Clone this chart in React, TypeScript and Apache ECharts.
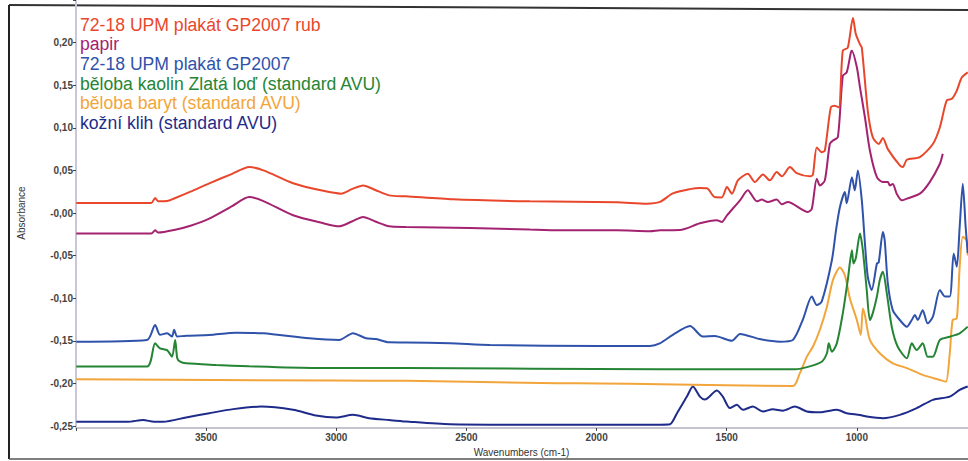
import React, { useEffect, useRef } from "react";
import * as echarts from "echarts";

const seriesNames = [
  "72-18 UPM plakát GP2007 rub",
  "papir",
  "72-18 UPM plakát GP2007",
  "běloba kaolin Zlatá loď (standard AVU)",
  "běloba baryt (standard AVU)",
  "kožní klih (standard AVU)",
];

const seriesColors = ["#e9472c", "#a32370", "#2f52aa", "#268535", "#f2a53a", "#1f2b8a"];

const xTicks = [4000, 3500, 3000, 2500, 2000, 1500, 1000, 500];
const yTicks = [-0.25, -0.2, -0.15, -0.1, -0.05, 0, 0.05, 0.1, 0.15, 0.2];

// [wavenumber (cm-1), absorbance]
const rubData: number[][] = [
  [3999, 0.0117], [3711, 0.0117], [3696, 0.0176], [3684, 0.0137], [3650, 0.014], [3623, 0.017],
  [3560, 0.025], [3488, 0.0348], [3400, 0.046], [3335, 0.0539], [3280, 0.05], [3166, 0.035],
  [3050, 0.026], [2982, 0.0227], [2940, 0.028], [2897, 0.0324], [2850, 0.027], [2797, 0.0207],
  [2732, 0.0196], [2552, 0.016], [2256, 0.0137], [1922, 0.0125], [1807, 0.011], [1757, 0.013],
  [1707, 0.023], [1641, 0.028], [1603, 0.0293], [1576, 0.029], [1546, 0.0187], [1519, 0.0183],
  [1499, 0.0305], [1480, 0.0227], [1457, 0.0383], [1419, 0.046], [1392, 0.0363], [1361, 0.0453],
  [1334, 0.0383], [1308, 0.048], [1288, 0.043], [1257, 0.0539], [1231, 0.0468], [1181, 0.043],
  [1169, 0.045], [1154, 0.077], [1135, 0.0714], [1123, 0.0734], [1100, 0.124], [1085, 0.126],
  [1069, 0.124], [1054, 0.1905], [1035, 0.194], [1015, 0.229], [1004, 0.21], [988, 0.198],
  [981, 0.194], [958, 0.12], [939, 0.089], [916, 0.081], [900, 0.088], [881, 0.075],
  [835, 0.0559], [823, 0.054], [808, 0.0625], [758, 0.0656], [708, 0.081], [681, 0.1007],
  [655, 0.132], [635, 0.134], [616, 0.1437], [597, 0.159], [574, 0.165],
];

const papirData: number[][] = [
  [3999, -0.0241], [3711, -0.0241], [3696, -0.0203], [3684, -0.023], [3623, -0.02], [3560, -0.015],
  [3488, -0.0066], [3400, 0.008], [3335, 0.0187], [3280, 0.014], [3166, -0.0027], [3050, -0.012],
  [2989, -0.0156], [2940, -0.01], [2897, -0.0047], [2850, -0.01], [2797, -0.0156], [2732, -0.0164],
  [2486, -0.0176], [2256, -0.0195], [2141, -0.0203], [1922, -0.0203], [1795, -0.0214], [1757, -0.0203],
  [1680, -0.02], [1603, -0.0121], [1538, -0.0085], [1519, -0.0105], [1499, -0.0027], [1449, 0.0149],
  [1419, 0.0266], [1384, 0.0137], [1365, 0.0157], [1342, 0.0129], [1308, 0.0157], [1288, 0.0102],
  [1265, 0.0129], [1188, 0.0012], [1173, 0.005], [1154, 0.0403], [1142, 0.0324], [1123, 0.0383],
  [1104, 0.081], [1092, 0.085], [1073, 0.089], [1054, 0.161], [1039, 0.165], [1023, 0.1885],
  [1019, 0.1905], [1000, 0.171], [988, 0.1475], [969, 0.1124], [950, 0.0734], [923, 0.042],
  [900, 0.0363], [881, 0.0363], [873, 0.0324], [862, 0.034], [847, 0.0227], [827, 0.0149],
  [808, 0.0169], [758, 0.0227], [720, 0.0363], [681, 0.0578], [670, 0.0696],
];

const plakatData: number[][] = [
  [3999, -0.151], [3727, -0.149], [3696, -0.1315], [3677, -0.143], [3650, -0.141], [3631, -0.145],
  [3623, -0.137], [3611, -0.145], [3577, -0.144], [3488, -0.1432], [3385, -0.1405], [3281, -0.1412],
  [3104, -0.147], [2989, -0.149], [2936, -0.141], [2886, -0.147], [2847, -0.148], [2797, -0.1518],
  [2732, -0.152], [2563, -0.153], [2409, -0.155], [1987, -0.156], [1795, -0.156], [1757, -0.153],
  [1707, -0.143], [1641, -0.1327], [1592, -0.145], [1546, -0.1444], [1480, -0.15], [1449, -0.142],
  [1373, -0.148], [1296, -0.151], [1246, -0.149], [1208, -0.1256], [1173, -0.098], [1154, -0.108],
  [1135, -0.104], [1096, -0.0554], [1080, -0.02], [1065, 0.007], [1046, 0.0246], [1039, 0.0113],
  [1019, 0.042], [1008, 0.0266], [996, 0.05], [981, 0.0149], [969, -0.0355], [958, -0.0749],
  [943, -0.0905], [923, -0.0593], [916, -0.058], [900, -0.0222], [893, -0.032], [881, -0.0827],
  [862, -0.114], [835, -0.1256], [808, -0.1335], [789, -0.1256], [777, -0.1198], [766, -0.1256],
  [747, -0.114], [728, -0.1295], [708, -0.1218], [681, -0.0905], [662, -0.098], [643, -0.098],
  [628, -0.0475], [616, -0.0632], [605, -0.0164], [593, 0.0344], [582, -0.0164], [574, -0.047],
];

const kaolinData: number[][] = [
  [3999, -0.1803], [3727, -0.1803], [3696, -0.153], [3677, -0.159], [3650, -0.161], [3631, -0.1686],
  [3619, -0.149], [3611, -0.1705], [3600, -0.1745], [3577, -0.1764], [3462, -0.1783], [3335, -0.18],
  [3078, -0.182], [2732, -0.182], [1757, -0.1834], [1238, -0.1834], [1181, -0.18], [1135, -0.1745],
  [1115, -0.1646], [1108, -0.153], [1096, -0.1628], [1077, -0.153], [1054, -0.1178], [1035, -0.0788],
  [1019, -0.0437], [1013, -0.0593], [1004, -0.053], [988, -0.0241], [977, -0.0437], [962, -0.0905],
  [950, -0.1256], [939, -0.1178], [923, -0.098], [912, -0.0788], [900, -0.0691], [885, -0.094],
  [866, -0.1335], [843, -0.157], [808, -0.1705], [789, -0.153], [770, -0.1608], [747, -0.153],
  [728, -0.1686], [708, -0.1686], [681, -0.149], [643, -0.1452], [605, -0.1412], [574, -0.1335],
];

const barytData: number[][] = [
  [3999, -0.195], [3001, -0.1967], [2732, -0.197], [2152, -0.1998], [1987, -0.2], [1757, -0.201],
  [1246, -0.203], [1219, -0.188], [1192, -0.1686], [1169, -0.157], [1142, -0.137], [1115, -0.11],
  [1092, -0.0788], [1065, -0.064], [1046, -0.073], [1027, -0.1], [1000, -0.1256], [985, -0.1432],
  [977, -0.112], [969, -0.12], [950, -0.149], [912, -0.1646], [862, -0.1764], [808, -0.182],
  [747, -0.19], [681, -0.196], [658, -0.198], [643, -0.1646], [632, -0.1256], [616, -0.1237],
  [605, -0.063], [593, -0.028], [578, -0.032], [574, -0.05],
];

const klihData: number[][] = [
  [3999, -0.245], [3800, -0.245], [3742, -0.243], [3700, -0.245], [3665, -0.245], [3577, -0.24],
  [3488, -0.235], [3396, -0.2302], [3289, -0.2272], [3166, -0.231], [3078, -0.2377], [3001, -0.24],
  [2936, -0.2369], [2874, -0.2408], [2797, -0.243], [2732, -0.2447], [2563, -0.248], [2294, -0.2485],
  [1987, -0.2485], [1757, -0.2485], [1718, -0.248], [1691, -0.235], [1653, -0.2155], [1630, -0.2037],
  [1603, -0.2155], [1584, -0.219], [1538, -0.2084], [1515, -0.2155], [1488, -0.229], [1461, -0.2252],
  [1438, -0.231], [1400, -0.2272], [1361, -0.233], [1323, -0.2302], [1284, -0.232], [1238, -0.2272],
  [1192, -0.233], [1142, -0.234], [1077, -0.231], [1039, -0.235], [988, -0.237], [962, -0.2389],
  [900, -0.2408], [835, -0.2369], [770, -0.229], [708, -0.2193], [643, -0.2155], [605, -0.2076],
  [574, -0.2037],
];

const allData = [rubData, papirData, plakatData, kaolinData, barytData, klihData];

export default function App() {
  const ref = useRef<HTMLDivElement>(null);
  useEffect(() => {
    if (!ref.current) return;
    const chart = echarts.init(ref.current, undefined, { renderer: "svg" });
    const xMin = xTicks[xTicks.length - 1];
    const xMax = xTicks[0];
    const yMin = yTicks[0];
    const yStep = yTicks[1] - yTicks[0];
    chart.setOption({
      animation: false,
      backgroundColor: "#ffffff",
      textStyle: { fontFamily: "Liberation Sans, Arial, sans-serif" },
      grid: { left: 76, right: -19, top: 0, bottom: 35, containLabel: false, outerBoundsMode: "none" },
      legend: {
        orient: "vertical",
        left: 70,
        top: 10,
        icon: "none",
        itemWidth: 0,
        itemHeight: 10,
        itemGap: 0,
        selectedMode: false,
        textStyle: { fontSize: 17.6, lineHeight: 19.6, fontFamily: "Liberation Sans, Arial, sans-serif" },
        data: seriesNames.map((n, i) => ({ name: n, textStyle: { color: seriesColors[i] } })),
      },
      xAxis: {
        type: "value",
        inverse: true,
        min: xMin,
        max: xMax,
        interval: 500,
        offset: 2,
        name: "Wavenumbers (cm-1)",
        nameLocation: "middle",
        nameGap: 19,
        nameTextStyle: { fontSize: 10, color: "#333", padding: [0, 20, 0, 0] },
        axisLine: { onZero: false, lineStyle: { color: "#c4c4ce", width: 2 } },
        axisTick: { length: 3, lineStyle: { color: "#444" } },
        axisLabel: {
          margin: 4,
          fontSize: 10,
          fontWeight: "bold",
          color: "#444",
          formatter: (v: number) => (v >= 4000 || v <= 500 ? "" : String(v)),
        },
        splitLine: { show: false },
      },
      yAxis: {
        type: "value",
        min: yMin,
        max: 0.25,
        interval: yStep,
        name: "Absorbance",
        nameLocation: "middle",
        nameGap: 50,
        nameTextStyle: { fontSize: 10, color: "#333" },
        axisLine: { show: true, onZero: false, lineStyle: { color: "#c8c6d8", width: 2 } },
        axisTick: { show: true, length: 3, lineStyle: { color: "#444" } },
        axisLabel: {
          margin: 3,
          fontSize: 10,
          fontWeight: "bold",
          color: "#444",
          formatter: (v: number) => (v > 0.22 ? "" : v.toFixed(2).replace(".", ",")),
        },
        splitLine: { show: false },
      },
      graphic: [
        { type: "line", shape: { x1: 9, y1: 5, x2: 968, y2: 10 }, style: { stroke: "#333", lineWidth: 2 } },
        { type: "line", shape: { x1: 9, y1: 5, x2: 9, y2: 459 }, style: { stroke: "#222", lineWidth: 2 } },
        { type: "line", shape: { x1: 9, y1: 459, x2: 968, y2: 459 }, style: { stroke: "#555", lineWidth: 1.5 } },
      ],
      series: seriesNames.map((n, i) => ({
        name: n,
        type: "line",
        data: allData[i],
        showSymbol: false,
        symbol: "none",
        smooth: 0.25,
        lineStyle: { color: seriesColors[i], width: 2 },
        itemStyle: { color: seriesColors[i] },
        z: 10 - i,
      })),
    });
    return () => chart.dispose();
  }, []);
  return (
    <div
      ref={ref}
      style={{ position: "fixed", left: 0, top: 0, width: 968, height: 461, background: "#fff" }}
    />
  );
}
